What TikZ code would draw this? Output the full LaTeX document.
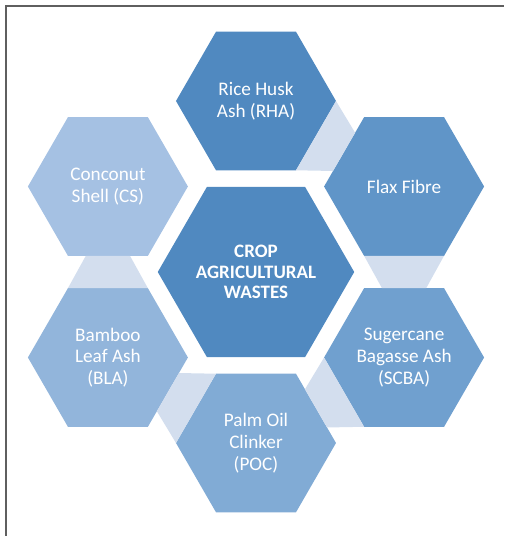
\documentclass[tikz,border=0pt]{standalone}
\usepackage{fontspec}
\setmainfont{Carlito}
\usetikzlibrary{shapes.geometric,calc}

\definecolor{hubblue}{RGB}{80,137,192}
\definecolor{hexa1}{RGB}{80,137,192}
\definecolor{hexa2}{RGB}{96,149,200}
\definecolor{hexa3}{RGB}{112,160,207}
\definecolor{hexa4}{RGB}{129,171,213}
\definecolor{hexa5}{RGB}{146,181,219}
\definecolor{hexa6}{RGB}{165,193,227}
\definecolor{linkblue}{RGB}{211,222,238}
\definecolor{framegray}{RGB}{95,95,95}

\tikzset{
  hexa/.style={regular polygon, regular polygon sides=6, minimum size=160pt,
    inner sep=0pt, outer sep=0pt, text=white, align=center,
    font=\fontsize{19.2}{21.8}\selectfont},
  hub/.style={hexa, minimum size=196pt, fill=hubblue,
    font=\fontsize{19}{20.6}\selectfont\bfseries},
  link/.style={fill=linkblue},
  frame/.style={draw=framegray, line width=2.2pt}
}

\begin{document}
\begin{tikzpicture}
  \useasboundingbox (-256pt,-264pt) rectangle (248pt,272pt);
  \draw[frame] (-250pt,-264pt) -- (-250pt,266pt) -- (248pt,266pt);

  \node[hub] (crop) at (0,0) {CROP\\AGRICULTURAL\\WASTES};
  \node[hexa, fill=hexa1] (rha) at (90:171pt) {Rice Husk\\Ash (RHA)};
  \node[hexa, fill=hexa2] (flax) at (30:171pt) {Flax Fibre};
  \node[hexa, fill=hexa3] (scba) at (-30:171pt) {Sugercane\\Bagasse Ash\\(SCBA)};
  \node[hexa, fill=hexa4] (poc) at (-90:171pt) {Palm Oil\\Clinker\\(POC)};
  \node[hexa, fill=hexa5] (bla) at (-150:171pt) {Bamboo\\Leaf Ash\\(BLA)};
  \node[hexa, fill=hexa6] (cs) at (150:171pt) {Conconut\\Shell (CS)};

  % links between neighbouring hexagons
  \foreach \a/\b/\ai/\aii/\bi/\bii in {rha/flax/0/-60/120/180,
      flax/scba/-60/-120/60/120, scba/poc/-120/180/0/60,
      poc/bla/180/120/-60/0, bla/cs/120/60/-120/-60}
    \fill[link] (\a.\ai) -- (\a.\aii) -- ($(\b.\bii)!0.224!(\b.\bi)$)
      -- ($(\b.\bi)!0.224!(\b.\bii)$) -- cycle;
\end{tikzpicture}
\end{document}
